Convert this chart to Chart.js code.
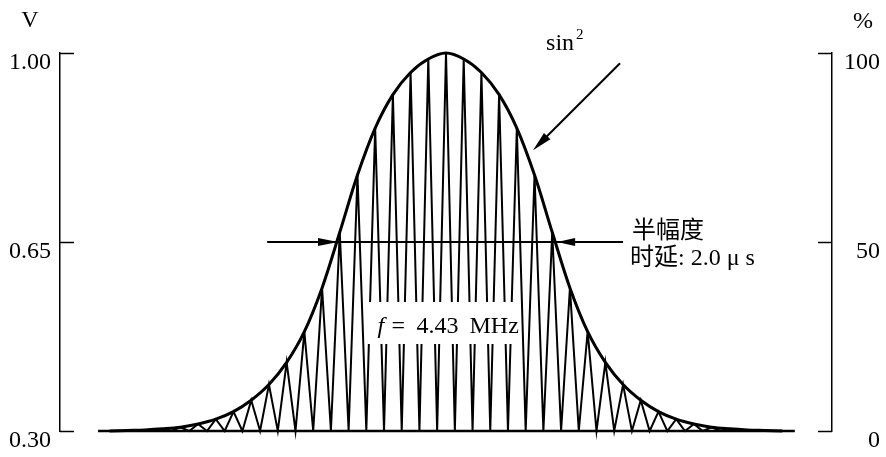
<!DOCTYPE html>
<html>
<head>
<meta charset="utf-8">
<title>sin² 脉冲</title>
<script src="https://cdn.jsdelivr.net/npm/chart.js@4.4.1/dist/chart.umd.min.js"></script>
<style>
    html, body { margin: 0; padding: 0; background: #fff; }
    #wrap { position: relative; width: 886px; height: 457px; }
</style>
</head>
<body>
<div id="wrap"><canvas id="pulseChart"></canvas></div>
<script>
// 横轴单位：半个载波周期。第 n 个峰位于 x = 2n，谷位于 x = 2n ± 1。
var CYCLE_NO = [-19, -18, -17, -16, -15, -14, -13, -12, -11, -10, -9, -8, -7, -6, -5, -4, -3, -2, -1,
    0, 1, 2, 3, 4, 5, 6, 7, 8, 9, 10, 11, 12, 13, 14, 15, 16, 17, 18, 19];

// 每个峰位上的包络电压 (V)
var PEAK_VOLTS = [0.300, 0.301, 0.302, 0.304, 0.307, 0.313, 0.322, 0.336, 0.357, 0.386,
    0.427, 0.484, 0.565, 0.668, 0.774, 0.861, 0.923, 0.964, 0.989,
    1.000,
    0.989, 0.964, 0.923, 0.861, 0.774, 0.668, 0.565, 0.484, 0.427, 0.386,
    0.357, 0.336, 0.322, 0.313, 0.307, 0.304, 0.302, 0.301, 0.300];

// 载波只在这些峰号之间画出
var CARRIER_FIRST = -17;
var CARRIER_LAST = 17;

// 基线两端
var BASE_FROM = -39.3;
var BASE_TO = 39.4;

// 纵轴刻度
var V_TICKS = [0.30, 0.65, 1.00];
var V_LABELS = ["0.30", "0.65", "1.00"];
var PCT_TICKS = [0, 50, 100];
var PCT_LABELS = ["0", "50", "100"];

var HALF_VOLT = 0.65;

var SERIF = '"Liberation Serif", "Noto Sans CJK SC", serif';

document.addEventListener("DOMContentLoaded", function () {
    setupPulseChart();
});

function setupPulseChart() {
    var canvas = document.getElementById("pulseChart");

    new Chart(canvas, {
        type: "line",
        data: {
            datasets: [
                createLineDataset("基线", buildBaseline(), 2.6, 0),
                createLineDataset("sin²", buildEnvelope(), 3, 0.35),
                createLineDataset("载波", buildCarrier(), 2, 0)
            ]
        },
        options: createChartOptions(),
        plugins: [pulseNotes]
    });
}

function buildBaseline() {
    return [
        { x: BASE_FROM, y: V_TICKS[0] },
        { x: BASE_TO, y: V_TICKS[0] }
    ];
}

function buildEnvelope() {
    var points = [];
    for (var i = 0; i < CYCLE_NO.length; i++) {
        points.push({ x: 2 * CYCLE_NO[i], y: PEAK_VOLTS[i] });
    }
    return points;
}

// 锯齿形载波：峰碰到包络，谷落在基线上
function buildCarrier() {
    var points = [];
    for (var i = 0; i < CYCLE_NO.length; i++) {
        var n = CYCLE_NO[i];
        if (n < CARRIER_FIRST || n > CARRIER_LAST) {
            continue;
        }
        if (points.length === 0) {
            points.push({ x: 2 * n - 1, y: V_TICKS[0] });
        }
        points.push({ x: 2 * n, y: PEAK_VOLTS[i] });
        points.push({ x: 2 * n + 1, y: V_TICKS[0] });
    }
    return points;
}

function createLineDataset(label, points, width, tension) {
    return {
        label: label,
        data: points,
        borderColor: "#000",
        borderWidth: width,
        tension: tension,
        pointRadius: 0,
        fill: false,
        clip: false
    };
}

function createChartOptions() {
    return {
        responsive: true,
        maintainAspectRatio: false,
        devicePixelRatio: 1,
        animation: false,
        layout: {
            padding: { top: 53, bottom: 26, left: 0, right: 6 }
        },
        plugins: {
            legend: { display: false },
            tooltip: { enabled: false }
        },
        scales: {
            x: {
                type: "linear",
                min: -43.6,
                max: 43.6,
                display: false
            },
            y: {
                position: "left",
                min: 0.30,
                max: 1.00,
                afterBuildTicks: function (scale) {
                    scale.ticks = V_TICKS.map(function (v) { return { value: v }; });
                },
                afterFit: function (scale) {
                    scale.width = 60;
                },
                grid: { drawOnChartArea: false, drawTicks: false },
                border: { color: "#000", width: 1.5 },
                ticks: {
                    color: "#000",
                    font: { family: SERIF, size: 24 },
                    padding: 9,
                    labelOffset: 10,
                    callback: function (value, index) {
                        return V_LABELS[index];
                    }
                }
            },
            y2: {
                position: "right",
                min: 0,
                max: 100,
                afterBuildTicks: function (scale) {
                    scale.ticks = PCT_TICKS.map(function (v) { return { value: v }; });
                },
                afterFit: function (scale) {
                    scale.width = 48;
                },
                grid: { drawOnChartArea: false, drawTicks: false },
                border: { color: "#000", width: 1.5 },
                ticks: {
                    color: "#000",
                    font: { family: SERIF, size: 24 },
                    crossAlign: "far",
                    labelOffset: 10,
                    callback: function (value, index) {
                        return PCT_LABELS[index];
                    }
                }
            }
        }
    };
}

function drawArrowHead(ctx, tipX, tipY, fromX, fromY, len, half) {
    var a = Math.atan2(tipY - fromY, tipX - fromX);
    var bx = tipX - len * Math.cos(a);
    var by = tipY - len * Math.sin(a);
    ctx.beginPath();
    ctx.moveTo(tipX, tipY);
    ctx.lineTo(bx + half * Math.sin(a), by - half * Math.cos(a));
    ctx.lineTo(bx - half * Math.sin(a), by + half * Math.cos(a));
    ctx.closePath();
    ctx.fill();
}

function drawLine(ctx, x1, y1, x2, y2, width) {
    ctx.lineWidth = width;
    ctx.beginPath();
    ctx.moveTo(x1, y1);
    ctx.lineTo(x2, y2);
    ctx.stroke();
}

// 内侧刻度、单位、半幅度箭头和文字标注
var pulseNotes = {
    id: "pulseNotes",
    afterDatasetsDraw: function (chart) {
        var ctx = chart.ctx;
        var area = chart.chartArea;
        var xs = chart.scales.x;
        var yv = chart.scales.y;
        var yp = chart.scales.y2;
        var px = function (u) { return xs.getPixelForValue(u); };
        var py = function (v) { return yv.getPixelForValue(v); };

        ctx.save();
        ctx.strokeStyle = "#000";
        ctx.fillStyle = "#000";
        ctx.lineCap = "butt";

        V_TICKS.forEach(function (v) {
            var y = Math.round(yv.getPixelForValue(v)) + 0.5;
            drawLine(ctx, area.left, y, area.left + 14, y, 1.5);
        });
        PCT_TICKS.forEach(function (p) {
            var y = Math.round(yp.getPixelForValue(p)) + 0.5;
            drawLine(ctx, area.right - 14, y, area.right, y, 1.5);
        });

        ctx.font = "24px " + SERIF;
        ctx.textBaseline = "middle";
        ctx.textAlign = "center";
        ctx.fillText("V", area.left - 30, area.top - 32);
        ctx.fillText("%", area.right + 31, area.top - 31);

        // 半幅度线，两端箭头指向包络
        var yHalf = Math.round(py(HALF_VOLT));
        var leftEnd = px(-20.2);
        var rightEnd = px(20.0);
        var leftTip = px(-12.2);
        var rightTip = px(12.55);
        drawLine(ctx, leftEnd, yHalf, rightEnd, yHalf, 2);
        drawArrowHead(ctx, leftTip, yHalf, leftEnd, yHalf, 20, 4);
        drawArrowHead(ctx, rightTip, yHalf, rightEnd, yHalf, 18, 4);

        ctx.textAlign = "left";
        ctx.fillText("半幅度", rightEnd + 9, yHalf - 10);
        ctx.fillText("时延: 2.0 μ s", rightEnd + 7, yHalf + 17);

        // sin² 指示箭头
        var tipX = px(9.83);
        var tipY = py(0.82);
        var tailX = px(19.66);
        var tailY = py(0.981);
        var a = Math.atan2(tipY - tailY, tipX - tailX);
        drawLine(ctx, tailX, tailY, tipX - 14 * Math.cos(a), tipY - 14 * Math.sin(a), 2);
        drawArrowHead(ctx, tipX, tipY, tailX, tailY, 20, 4.5);

        ctx.textBaseline = "alphabetic";
        ctx.fillText("sin", tailX - 74, tailY - 13);
        ctx.font = "15px " + SERIF;
        ctx.fillText("2", tailX - 44, tailY - 24);

        // 载频标注，白底遮住载波
        var boxX = px(-0.4) - 75;
        var boxY = py(0.50) - 21;
        ctx.fillStyle = "#fff";
        ctx.fillRect(boxX, boxY, 150, 42);
        ctx.fillStyle = "#000";
        ctx.textBaseline = "middle";
        var textY = boxY + 25;
        ctx.font = "italic 24px " + SERIF;
        ctx.fillText("f", boxX + 10, textY);
        ctx.font = "24px " + SERIF;
        ctx.fillText("=", boxX + 24, textY);
        ctx.fillText("4.43", boxX + 49, textY);
        ctx.fillText("MHz", boxX + 102, textY);

        ctx.restore();
    }
};
</script>
</body>
</html>
